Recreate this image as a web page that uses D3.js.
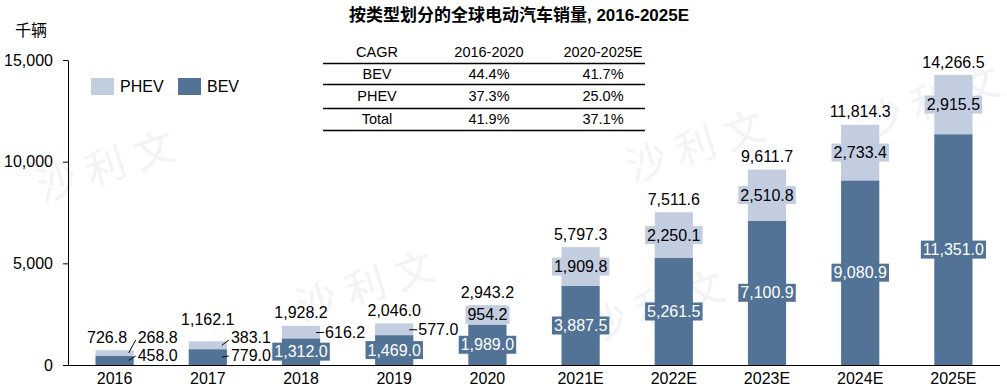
<!DOCTYPE html>
<html>
<head>
<meta charset="utf-8">
<script src="https://cdn.jsdelivr.net/npm/d3@7"></script>
<style>
  body { margin: 0; background: #fff; }
  svg { display: block; font-family: "Liberation Sans", Arial, "Noto Sans CJK SC", sans-serif; }
</style>
</head>
<body>
<svg id="chart" width="1007" height="389"></svg>
<script>
// values in thousand units
const years = ['2016', '2017', '2018', '2019', '2020', '2021E', '2022E', '2023E', '2024E', '2025E']
const bev = [458.0, 779.0, 1312.0, 1469.0, 1989.0, 3887.5, 5261.5, 7100.9, 9080.9, 11351.0]
const phev = [268.8, 383.1, 616.2, 577.0, 954.2, 1909.8, 2250.1, 2510.8, 2733.4, 2915.5]
const totals = [726.8, 1162.1, 1928.2, 2046.0, 2943.2, 5797.3, 7511.6, 9611.7, 11814.3, 14266.5]
const yTicks = [0, 5000, 10000, 15000]
const cagrHeader = ['CAGR', '2016-2020', '2020-2025E']
const cagrRows = [['BEV', '44.4%', '41.7%'], ['PHEV', '37.3%', '25.0%'], ['Total', '41.9%', '37.1%']]

const bevColor = '#527396', phevColor = '#c3cde0'
const fmt = d3.format(',.1f')

let svg = d3.select('#chart')

// faint watermark
let marks = [[110, 180], [370, 300], [700, 160], [935, 115], [660, 320]]
marks.forEach(m => {
    svg.append('text')
        .attr('transform', 'translate(' + m[0] + ',' + m[1] + ') rotate(-18)')
        .attr('text-anchor', 'middle')
        .style('font-size', '40px')
        .style('fill', '#f1f3f6')
        .text('沙 利 文')
})

let x = d3.scaleBand().domain(years).range([68, 1000]).paddingInner(0.59).paddingOuter(0.295)
let y = d3.scaleLinear().domain([0, 15000]).range([365, 60])

// title
svg.append('text')
    .attr('x', 519).attr('y', 21)
    .attr('text-anchor', 'middle')
    .style('font-size', '17px').style('font-weight', 'bold')
    .text('按类型划分的全球电动汽车销量, 2016-2025E')

svg.append('text')
    .attr('x', 31).attr('y', 36)
    .attr('text-anchor', 'middle')
    .style('font-size', '16px')
    .text('千辆')

// y axis
let yAxis = svg.append('g')
    .attr('transform', 'translate(68,0)')
    .call(d3.axisLeft(y).tickValues(yTicks).tickFormat(d3.format(',')).tickSize(5).tickSizeOuter(0).tickPadding(10))
yAxis.selectAll('text').style('font-size', '16px').style('fill', '#000').attr('font-family', null)
yAxis.selectAll('line, path').style('stroke', '#000')

// bars
let g = svg.append('g')
years.forEach((yr, i) => {
    g.append('rect')
        .attr('x', x(yr)).attr('width', x.bandwidth())
        .attr('y', y(bev[i])).attr('height', y(0) - y(bev[i]))
        .style('fill', bevColor)
    g.append('rect')
        .attr('x', x(yr)).attr('width', x.bandwidth())
        .attr('y', y(totals[i])).attr('height', y(bev[i]) - y(totals[i]))
        .style('fill', phevColor)
})

// x axis baseline and labels
svg.append('line')
    .attr('x1', 68).attr('x2', 1000).attr('y1', 365.5).attr('y2', 365.5)
    .style('stroke', '#000')
years.forEach(yr => {
    svg.append('text')
        .attr('x', x(yr) + x.bandwidth() / 2).attr('y', 384)
        .attr('text-anchor', 'middle')
        .style('font-size', '16px')
        .text(yr)
})

let boxLabel = (cx, cy, txt, bg, fg) => {
    let t = svg.append('text')
        .attr('x', cx).attr('y', cy).attr('dy', '0.35em')
        .attr('text-anchor', 'middle')
        .style('font-size', '16px')
        .style('fill', fg)
        .text(txt)
    let bb = t.node().getBBox()
    svg.insert('rect', () => t.node())
        .attr('x', bb.x - 2).attr('y', cy - 9)
        .attr('width', bb.width + 4).attr('height', 18)
        .style('fill', bg)
}

let sideLabel = (x0, y0, x1, y1, tx, ty, txt) => {
    svg.append('line')
        .attr('x1', x0).attr('y1', y0).attr('x2', x1).attr('y2', y1)
        .style('stroke', '#000').style('stroke-width', 1)
    svg.append('text')
        .attr('x', tx).attr('y', ty).attr('dy', '0.35em')
        .style('font-size', '16px')
        .text(txt)
}

// value labels
years.forEach((yr, i) => {
    let cx = x(yr) + x.bandwidth() / 2
    let right = x(yr) + x.bandwidth()
    let bevMid = (y(0) + y(bev[i])) / 2
    let phevMid = (y(bev[i]) + y(totals[i])) / 2
    let bevSmall = y(0) - y(bev[i]) < 18
    let phevSmall = y(bev[i]) - y(totals[i]) < 18
    let totalY = y(totals[i]) - 13

    if (bevSmall && phevSmall) {
        // both outside, stacked on the right with slanted leaders
        sideLabel(right - 5, phevMid, right + 2, 340, right + 4, 337, fmt(phev[i]))
        sideLabel(right - 5, bevMid, right + 2, 356, right + 4, 355, fmt(bev[i]))
        totalY = yr == '2016' ? 337 : 319
        if (yr == '2016') cx -= 7.5
    } else {
        if (phevSmall) sideLabel(right - 4, phevMid + 0.5, right + 4, phevMid + 0.5, right + 5, phevMid, fmt(phev[i]))
        else boxLabel(cx, phevMid, fmt(phev[i]), phevColor, '#000')
        boxLabel(x(yr) + x.bandwidth() / 2, bevMid, fmt(bev[i]), bevColor, '#fff')
    }

    svg.append('text')
        .attr('x', cx).attr('y', totalY).attr('dy', '0.35em')
        .attr('text-anchor', 'middle')
        .style('font-size', '16px')
        .text(fmt(totals[i]))
})

// legend
let legend = [['PHEV', phevColor, 91], ['BEV', bevColor, 178]]
legend.forEach(l => {
    svg.append('rect').attr('x', l[2]).attr('y', 78).attr('width', 23).attr('height', 17).style('fill', l[1])
    svg.append('text').attr('x', l[2] + 29).attr('y', 86.5).attr('dy', '0.35em')
        .style('font-size', '16px').text(l[0])
})

// CAGR table
let colX = [377, 489, 603]
let rowY = [52, 73.5, 96, 119]
let lineY = [63.5, 84.5, 108.5, 130.5]
let table = svg.append('g').style('font-size', '14.5px')
;[cagrHeader].concat(cagrRows).forEach((row, r) => {
    row.forEach((cell, c) => {
        table.append('text')
            .attr('x', colX[c]).attr('y', rowY[r]).attr('dy', '0.35em')
            .attr('text-anchor', 'middle')
            .text(cell)
    })
})
lineY.forEach(ly => {
    table.append('line')
        .attr('x1', 323).attr('x2', 645).attr('y1', ly).attr('y2', ly)
        .style('stroke', '#000').style('stroke-width', 1.3)
})
</script>
</body>
</html>
